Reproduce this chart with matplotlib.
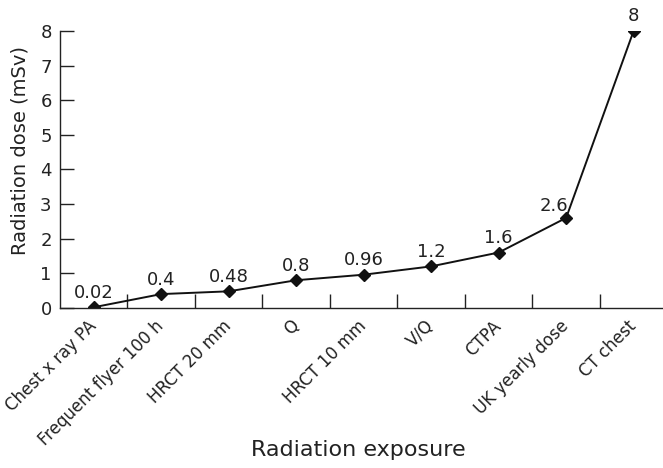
import numpy as np
import matplotlib.pyplot as plt

categories = ["Chest x ray PA", "Frequent flyer 100 h", "HRCT 20 mm", "Q",
              "HRCT 10 mm", "V/Q", "CTPA", "UK yearly dose", "CT chest"]
doses = [0.02, 0.4, 0.48, 0.8, 0.96, 1.2, 1.6, 2.6, 8]
labels = ["0.02", "0.4", "0.48", "0.8", "0.96", "1.2", "1.6", "2.6", "8"]

plt.rcParams['font.family'] = ['DejaVu Sans']
fig = plt.figure(figsize=(6.63, 4.68), dpi=100)
ax = fig.add_axes([0.0905, 0.342, 0.911, 0.592])

x = np.arange(len(categories))
ax.plot(x, doses, color="#111111", lw=1.4, marker="D", ms=6.5, mfc="#111111", mec="#111111")

for xi, yi, lab in zip(x, doses, labels):
    # the 2.6 label sits up-left of its point so it clears the steep line
    off = (-9, 2) if lab == "2.6" else (0, 4)
    ax.annotate(lab, (xi, yi), xytext=off, textcoords="offset points",
                ha="center", va="bottom", fontsize=13, color="#222222")

ax.set_xlim(-0.5, 8.45)
ax.set_ylim(0, 8)
ax.set_yticks(range(9))
ax.tick_params(axis="y", direction="in", length=10, width=1, labelsize=13, pad=6, colors="#222222")

# boundary ticks between categories, labels on the category centres
ax.set_xticks(x[:-1] + 0.5)
ax.set_xticklabels([])
ax.tick_params(axis="x", which="major", direction="in", length=10, width=1, colors="#222222")
ax.set_xticks(x, minor=True)
ax.set_xticklabels(categories, minor=True, rotation=45, ha="right", va="center",
                   rotation_mode="anchor", fontsize=12, color="#222222")
ax.tick_params(axis="x", which="minor", length=0, pad=11)

for s in ["top", "right"]:
    ax.spines[s].set_visible(False)
for s in ["left", "bottom"]:
    ax.spines[s].set_color("#222222")
    ax.spines[s].set_linewidth(1)

ax.set_ylabel("Radiation dose (mSv)", fontsize=14, color="#222222")
ax.yaxis.set_label_coords(-0.05, 0.57)
fig.text(0.54, 0.018, "Radiation exposure", ha="center", va="bottom", fontsize=16, color="#222222")

fig.savefig("out.png", dpi=100)
